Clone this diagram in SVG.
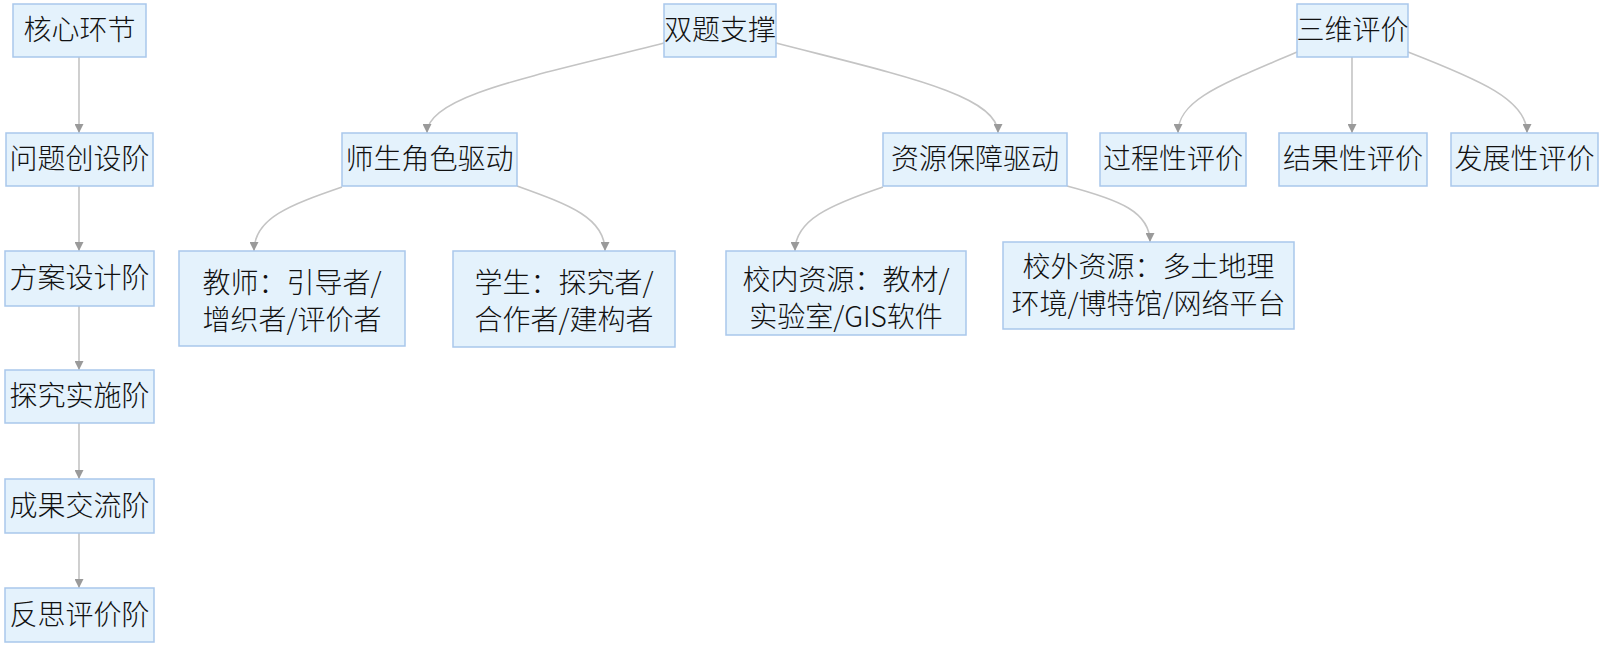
<svg xmlns="http://www.w3.org/2000/svg" width="1600" height="647" viewBox="0 0 1600 647">
<style>
.box{fill:#e4f2fc;stroke:#a9c7eb;stroke-width:1.5}
.t{font-family:"Noto Sans CJK SC","Noto Sans",sans-serif;font-size:28px;font-weight:300;fill:#111;text-anchor:middle}
.e{fill:none;stroke:#c4c4c4;stroke-width:1.6;marker-end:url(#arr)}
</style>
<defs>
<marker id="arr" viewBox="0 0 10 10" refX="10" refY="5" markerWidth="9" markerHeight="9" markerUnits="userSpaceOnUse" orient="auto">
<path d="M0,0 L10,5 L0,10 z" fill="#9a9a9a"/>
</marker>
</defs>
<rect width="1600" height="647" fill="#fff"/>
<g id="connectors">
<path class="e" d="M79,57 L79,133"/>
<path class="e" d="M79,186 L79,251"/>
<path class="e" d="M79,306 L79,370"/>
<path class="e" d="M79,423 L79,479"/>
<path class="e" d="M79,533 L79,588"/>
<path class="e" d="M664,43 C540,75 427,95 427,133"/>
<path class="e" d="M776,43 C900,75 998,95 998,133"/>
<path class="e" d="M342,187 C290,205 254,218 254,251"/>
<path class="e" d="M517,186 C570,205 605,218 605,251"/>
<path class="e" d="M883,187 C830,205 795,220 795,251"/>
<path class="e" d="M1067,186 C1120,200 1150,212 1150,242"/>
<path class="e" d="M1297,52 C1220,85 1178,100 1178,133"/>
<path class="e" d="M1352,57 L1352,133"/>
<path class="e" d="M1408,52 C1480,80 1527,100 1527,133"/>
</g>
<g id="n-hexin"><rect class="box" x="13" y="4" width="133" height="53"/><text class="t" x="79.5" y="40">核心环节</text></g>
<g id="n-wenti"><rect class="box" x="6" y="133" width="147" height="53"/><text class="t" x="79.5" y="169">问题创设阶</text></g>
<g id="n-fangan"><rect class="box" x="5" y="251" width="149" height="55"/><text class="t" x="79.5" y="288">方案设计阶</text></g>
<g id="n-tanjiu"><rect class="box" x="5" y="370" width="149" height="53"/><text class="t" x="79.5" y="406">探究实施阶</text></g>
<g id="n-chengguo"><rect class="box" x="5" y="479" width="149" height="54"/><text class="t" x="79.5" y="516">成果交流阶</text></g>
<g id="n-fansi"><rect class="box" x="5" y="588" width="149" height="54"/><text class="t" x="79.5" y="625">反思评价阶</text></g>
<g id="n-shuangti"><rect class="box" x="664" y="4" width="112" height="53"/><text class="t" x="720" y="40">双题支撑</text></g>
<g id="n-shisheng"><rect class="box" x="342" y="133" width="175" height="53"/><text class="t" x="429.5" y="169">师生角色驱动</text></g>
<g id="n-ziyuan"><rect class="box" x="883" y="133" width="184" height="53"/><text class="t" x="975" y="169">资源保障驱动</text></g>
<g id="n-jiaoshi"><rect class="box" x="179" y="251" width="226" height="95"/><text class="t" x="292" y="293">教师：引导者/</text><text class="t" x="292" y="330">增织者/评价者</text></g>
<g id="n-xuesheng"><rect class="box" x="453" y="251" width="222" height="96"/><text class="t" x="564" y="293">学生：探究者/</text><text class="t" x="564" y="330">合作者/建构者</text></g>
<g id="n-xiaonei"><rect class="box" x="726" y="251" width="240" height="84"/><text class="t" x="846" y="290">校内资源：教材/</text><text class="t" x="846" y="327">实验室/GIS软件</text></g>
<g id="n-xiaowai"><rect class="box" x="1003" y="242" width="291" height="87"/><text class="t" x="1148.5" y="277">校外资源：多土地理</text><text class="t" x="1148.5" y="314">环境/博特馆/网络平台</text></g>
<g id="n-sanwei"><rect class="box" x="1297" y="4" width="111" height="53"/><text class="t" x="1352.5" y="40">三维评价</text></g>
<g id="n-guocheng"><rect class="box" x="1100" y="133" width="146" height="53"/><text class="t" x="1173" y="169">过程性评价</text></g>
<g id="n-jieguo"><rect class="box" x="1279" y="133" width="148" height="53"/><text class="t" x="1353" y="169">结果性评价</text></g>
<g id="n-fazhan"><rect class="box" x="1451" y="133" width="147" height="53"/><text class="t" x="1524.5" y="169">发展性评价</text></g>
</svg>
